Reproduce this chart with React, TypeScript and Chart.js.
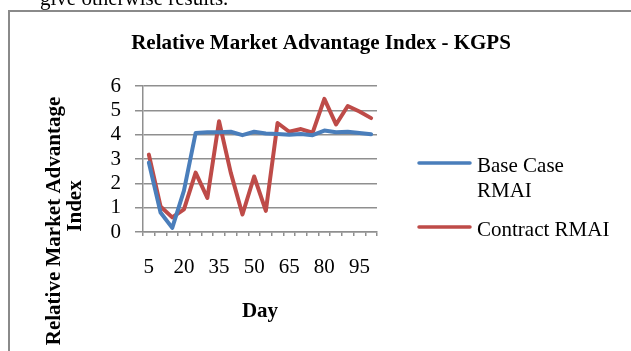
import React, { useEffect, useRef } from "react";
import { Chart, registerables } from "chart.js";

Chart.register(...registerables);

const days = ["5", "10", "15", "20", "25", "30", "35", "40", "45", "50", "55", "60", "65", "70", "75", "80", "85", "90", "95", "100"];
const baseCaseRMAI = [2.85, 0.8, 0.17, 1.7, 4.07, 4.1, 4.1, 4.12, 3.98, 4.12, 4.05, 4.03, 4.0, 4.03, 3.98, 4.17, 4.1, 4.12, 4.07, 4.02];
const contractRMAI = [3.18, 1.05, 0.6, 0.93, 2.44, 1.4, 4.55, 2.44, 0.72, 2.28, 0.87, 4.48, 4.12, 4.23, 4.08, 5.47, 4.42, 5.18, 4.95, 4.68];
const seriesNames = ["Base Case RMAI", "Contract RMAI"];
const legendLines = [["Base Case", "RMAI"], ["Contract RMAI"]];
const chartTitle = "Relative Market Advantage Index - KGPS";
const yTitleLines = ["Relative Market Advantage", "Index"];
const xTitle = "Day";
const pageTextAbove = "give otherwise results.";

const FONT = "'Liberation Serif', 'Times New Roman', serif";
const GRID = "#8f8f8f";
const BLUE = "#4A7EBB";
const RED = "#BE4B48";

const decorPlugin = {
  id: "decor",
  beforeDraw(chart: any) {
    const ctx = chart.ctx;
    ctx.save();
    ctx.fillStyle = "#ffffff";
    ctx.fillRect(0, 0, chart.width, chart.height);
    ctx.strokeStyle = "#8a8a8a";
    ctx.lineWidth = 2;
    ctx.strokeRect(9, 11, 800, 500);
    ctx.restore();
  },
  afterDraw(chart: any) {
    const ctx = chart.ctx;
    const area = chart.chartArea;
    ctx.save();
    ctx.fillStyle = "#000";
    ctx.font = `21px ${FONT}`;
    ctx.textAlign = "left";
    ctx.textBaseline = "alphabetic";
    ctx.fillText(pageTextAbove, 40, 5);
    ctx.font = `bold 21px ${FONT}`;
    ctx.textAlign = "center";
    ctx.textBaseline = "middle";
    ctx.fillText(chartTitle, 321, 44);
    ctx.fillText(xTitle, (area.left + area.right) / 2, 312);
    ctx.save();
    ctx.translate(55, 221);
    ctx.rotate(-Math.PI / 2);
    ctx.fillText(yTitleLines[0], 0, 0);
    ctx.restore();
    ctx.save();
    ctx.translate(76, 206);
    ctx.rotate(-Math.PI / 2);
    ctx.fillText(yTitleLines[1], 0, 0);
    ctx.restore();
    const ds = chart.data.datasets;
    const rows = [163, 227];
    ctx.font = `21px ${FONT}`;
    ctx.textAlign = "left";
    ds.forEach((d: any, i: number) => {
      const y = rows[i];
      ctx.strokeStyle = d.borderColor;
      ctx.lineWidth = 3.5;
      ctx.lineCap = "round";
      ctx.beginPath();
      ctx.moveTo(419, y);
      ctx.lineTo(470, y);
      ctx.stroke();
      legendLines[i].forEach((t, j) => {
        ctx.fillText(t, 477, y + 3 + j * 25);
      });
    });
    ctx.restore();
  },
};

export default function App() {
  const ref = useRef<HTMLCanvasElement | null>(null);
  useEffect(() => {
    if (!ref.current) return;
    const chart = new Chart(ref.current, {
      type: "line",
      data: {
        labels: days,
        datasets: [
          {
            label: seriesNames[0],
            data: baseCaseRMAI,
            borderColor: BLUE,
            backgroundColor: BLUE,
            borderWidth: 4,
            pointRadius: 0,
            tension: 0,
            borderJoinStyle: "round",
            borderCapStyle: "round",
          },
          {
            label: seriesNames[1],
            data: contractRMAI,
            borderColor: RED,
            backgroundColor: RED,
            borderWidth: 4,
            pointRadius: 0,
            tension: 0,
            borderJoinStyle: "round",
            borderCapStyle: "round",
          },
        ],
      },
      options: {
        responsive: false,
        animation: false,
        layout: { padding: { top: 86, right: 254, bottom: 0, left: 0 } },
        plugins: {
          legend: { display: false },
          title: { display: false },
          tooltip: { enabled: false },
        },
        scales: {
          x: {
            type: "category",
            offset: true,
            grid: {
              offset: true,
              drawOnChartArea: false,
              drawTicks: true,
              tickLength: 4,
              color: GRID,
              lineWidth: 1.5,
            },
            border: { color: GRID, width: 1.5 },
            ticks: {
              autoSkip: false,
              maxRotation: 0,
              padding: 19,
              color: "#000",
              font: { family: FONT, size: 21 },
              callback: (_v: any, i: number) => (i % 3 === 0 ? days[i] : ""),
            },
            afterFit: (s: any) => {
              s.height = 119;
            },
          },
          y: {
            min: 0,
            max: 6,
            ticks: {
              stepSize: 1,
              autoSkip: false,
              padding: 14,
              color: "#000",
              font: { family: FONT, size: 21 },
            },
            grid: { color: GRID, lineWidth: 1.5, tickLength: 8 },
            border: { color: GRID, width: 1.5 },
            afterFit: (s: any) => {
              s.width = 143;
            },
          },
        },
      },
      plugins: [decorPlugin],
    });
    return () => chart.destroy();
  }, []);
  return (
    <div style={{ position: "absolute", left: 0, top: 0, width: 631, height: 351 }}>
      <canvas ref={ref} width={631} height={351} style={{ display: "block", width: 631, height: 351 }} />
    </div>
  );
}
